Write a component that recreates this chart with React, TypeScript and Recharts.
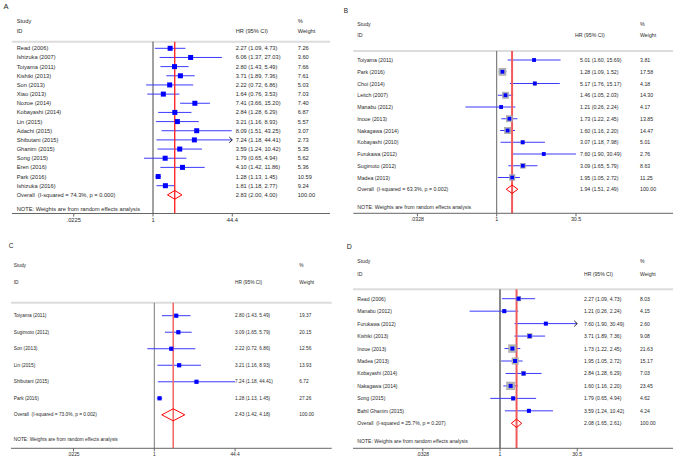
import { ScatterChart, Scatter, XAxis, YAxis, ReferenceLine } from "recharts";

const FONT = '"Liberation Sans", Arial, Helvetica, sans-serif';

// Panel A
const studiesA = ["Read (2006)", "Ishizuka (2007)", "Toiyama (2011)", "Kishiki (2013)", "Son (2013)", "Xiao (2013)", "Nozoe (2014)", "Kobayashi (2014)", "Lin (2015)", "Adachi (2015)", "Shibutani (2015)", "Ghanim (2015)", "Song (2015)", "Eren (2016)", "Park (2016)", "Ishizuka (2016)"];
const hrA = [2.27, 6.06, 2.80, 3.71, 2.22, 1.64, 7.41, 2.84, 3.21, 8.09, 7.24, 3.59, 1.79, 4.10, 1.28, 1.81];
const loA = [1.09, 1.37, 1.43, 1.89, 0.72, 0.76, 3.66, 1.28, 1.16, 1.51, 1.18, 1.24, 0.65, 1.42, 1.13, 1.18];
const hiA = [4.73, 27.03, 5.49, 7.36, 6.86, 3.53, 15.20, 6.29, 8.93, 43.25, 44.41, 10.42, 4.94, 11.86, 1.45, 2.77];
const weightA = [7.26, 3.60, 7.66, 7.61, 5.03, 7.03, 7.40, 6.87, 5.57, 3.07, 2.73, 5.35, 5.62, 5.36, 10.59, 9.24];
const overallA = [2.83, 2.00, 4.00];
const hetA = "Overall  (I-squared = 74.3%, p = 0.000)";
const arrowsA = ["Shibutani (2015)"];

// Panel B
const studiesB = ["Toiyama (2011)", "Park (2016)", "Choi (2014)", "Leitch (2007)", "Manabu (2012)", "Inoue (2013)", "Nakagawa (2014)", "Kobayashi (2010)", "Furukawa (2012)", "Sugimoto (2012)", "Madea (2013)"];
const hrB = [5.01, 1.28, 5.17, 1.46, 1.21, 1.73, 1.60, 3.07, 7.60, 3.09, 1.95];
const loB = [1.60, 1.09, 1.76, 1.05, 0.26, 1.22, 1.16, 1.18, 1.90, 1.65, 1.05];
const hiB = [15.69, 1.52, 15.17, 2.03, 2.24, 2.45, 2.20, 7.98, 30.49, 5.79, 2.72];
const weightB = [3.81, 17.58, 4.18, 14.30, 4.17, 13.85, 14.47, 5.01, 2.76, 8.63, 11.25];
const overallB = [1.94, 1.51, 2.49];
const hetB = "Overall  (I-squared = 63.3%, p = 0.002)";

// Panel C
const studiesC = ["Toiyama (2011)", "Sugimoto (2012)", "Son (2013)", "Lin (2015)", "Shibutani (2015)", "Park (2016)"];
const hrC = [2.80, 3.09, 2.22, 3.21, 7.24, 1.28];
const loC = [1.43, 1.65, 0.72, 1.16, 1.18, 1.13];
const hiC = [5.49, 5.79, 6.86, 8.93, 44.41, 1.45];
const weightC = [19.37, 20.15, 12.56, 13.93, 6.72, 27.26];
const overallC = [2.43, 1.42, 4.18];
const hetC = "Overall  (I-squared = 73.0%, p = 0.002)";

// Panel D
const studiesD = ["Read (2006)", "Manabu (2012)", "Furukawa (2012)", "Kishiki (2013)", "Inoue (2013)", "Madea (2013)", "Kobayashi (2014)", "Nakagawa (2014)", "Song (2015)", "Bahil Ghanim (2015)"];
const hrD = [2.27, 1.21, 7.60, 3.71, 1.73, 1.95, 2.84, 1.60, 1.79, 3.59];
const loD = [1.09, 0.26, 1.90, 1.89, 1.22, 1.05, 1.28, 1.16, 0.65, 1.24];
const hiD = [4.73, 2.24, 30.49, 7.36, 2.45, 2.72, 6.29, 2.20, 4.94, 10.42];
const weightD = [8.03, 4.15, 2.60, 9.08, 21.63, 15.17, 7.03, 23.45, 4.62, 4.24];
const overallD = [2.08, 1.65, 2.61];
const hetD = "Overall  (I-squared = 25.7%, p = 0.207)";
const arrowsD = ["Furukawa (2012)"];

const ticksAC = [0.0225, 1, 44.4];
const tickLabelsAC = [".0225", "1", "44.4"];
const ticksBD = [0.0328, 1, 30.5];
const tickLabelsBD = [".0328", "1", "30.5"];

const NOTE = "NOTE: Weights are from random effects analysis";

type Cfg = {
  letter: string;
  left: number; top: number; width: number; height: number;
  plotLeft: number; plotRight: number; oneX: number; k: number;
  row0Y: number; pitch: number; topY: number; axisY: number; noteY: number;
  studyY: number; idY: number; letterX: number; letterY: number; letterFont: number;
  nameX: number; hrX: number; hrHeadX: number; wtX: number; font: number;
  refColor: string; refWidth: number; oneColor: string; oneWidth: number;
  markSize: number; boxScale: number; diamondHalf: number;
};

const cfgA: Cfg = {
  letter: "A", left: 0, top: 0, width: 337, height: 230,
  plotLeft: 12, plotRight: 330, oneX: 153, k: 20.9,
  row0Y: 48.3, pitch: 9.16, topY: 41.7, axisY: 213.5, noteY: 209,
  studyY: 21, idY: 30.5, letterX: 6, letterY: 6.5, letterFont: 7.5,
  nameX: 16.7, hrX: 235.7, hrHeadX: 235.7, wtX: 297.7, font: 5.7,
  refColor: "#ff1a1a", refWidth: 1.3, oneColor: "#444", oneWidth: 1,
  markSize: 5, boxScale: 0, diamondHalf: 4.3,
};
const cfgB: Cfg = {
  letter: "B", left: 337, top: 0, width: 338, height: 230,
  plotLeft: 16.3, plotRight: 336, oneX: 159.7, k: 23.2,
  row0Y: 60, pitch: 11.75, topY: 51, axisY: 213.3, noteY: 206.7,
  studyY: 24.3, idY: 34.7, letterX: 9, letterY: 10.5, letterFont: 6.5,
  nameX: 20.3, hrX: 243, hrHeadX: 238, wtX: 303, font: 5.25,
  refColor: "#f05a5a", refWidth: 2, oneColor: "#666", oneWidth: 1,
  markSize: 3.8, boxScale: 1.67, diamondHalf: 4.2,
};
const cfgC: Cfg = {
  letter: "C", left: 0, top: 230, width: 337, height: 229,
  plotLeft: 11, plotRight: 331.7, oneX: 154.3, k: 21.3,
  row0Y: 85.7, pitch: 16.52, topY: 72.7, axisY: 218.3, noteY: 209.3,
  studyY: 35.3, idY: 52.3, letterX: 11, letterY: 15.8, letterFont: 6.5,
  nameX: 13.7, hrX: 235, hrHeadX: 235, wtX: 299.3, font: 4.8,
  refColor: "#f06464", refWidth: 1.5, oneColor: "#777", oneWidth: 1,
  markSize: 4.2, boxScale: 0, diamondHalf: 6,
};
const cfgD: Cfg = {
  letter: "D", left: 337, top: 230, width: 338, height: 229,
  plotLeft: 16, plotRight: 336, oneX: 163, k: 22.6,
  row0Y: 68.7, pitch: 12.46, topY: 59.3, axisY: 218.3, noteY: 211,
  studyY: 31.3, idY: 43.7, letterX: 12.3, letterY: 16.8, letterFont: 7,
  nameX: 20.3, hrX: 247, hrHeadX: 247, wtX: 303, font: 5.1,
  refColor: "#f05a5a", refWidth: 2, oneColor: "#888", oneWidth: 2,
  markSize: 4, boxScale: 1.6, diamondHalf: 4.2,
};

const ciText = (h: number, l: number, u: number) => `${h.toFixed(2)} (${l.toFixed(2)}, ${u.toFixed(2)})`;

type PanelProps = {
  cfg: Cfg; studies: string[]; hr: number[]; lo: number[]; hi: number[]; weight: number[];
  overall: number[]; het: string; ticks: number[]; tickLabels: string[]; arrows?: string[];
};

function Panel({ cfg, studies, hr, lo, hi, weight, overall, het, ticks, tickLabels, arrows = [] }: PanelProps) {
  const n = studies.length;
  const idx = (py: number) => (py - cfg.row0Y) / cfg.pitch;
  const yMin = idx(0);
  const yMax = idx(cfg.axisY);
  const topIdx = idx(cfg.topY);
  const xDomain = [Math.exp((cfg.plotLeft - cfg.oneX) / cfg.k), Math.exp((cfg.plotRight - cfg.oneX) / cfg.k)];

  const rows = studies.map((s, i) => ({ name: s, x: hr[i], y: i, w: weight[i] }));
  const arrowRows = rows.filter((r) => arrows.includes(r.name)).map((r) => ({ x: hi[r.y], y: r.y }));
  const h = cfg.diamondHalf / cfg.pitch;
  const diamond = [
    { x: overall[1], y: n }, { x: overall[0], y: n - h }, { x: overall[2], y: n },
    { x: overall[0], y: n + h }, { x: overall[1], y: n },
  ];

  // text rows sit on the same y scale as the marks
  const textRows = [
    { x: 1, y: idx(cfg.letterY), kind: "letter", i: -1 },
    { x: 1, y: idx(cfg.studyY), kind: "study", i: -1 },
    { x: 1, y: idx(cfg.idY), kind: "id", i: -1 },
    ...studies.map((_, i) => ({ x: 1, y: i, kind: "row", i })),
    { x: 1, y: n, kind: "overall", i: -1 },
    { x: 1, y: idx(cfg.noteY), kind: "note", i: -1 },
  ];

  const txt = { fontSize: cfg.font, fill: "#2a2a2a", fontFamily: FONT, dominantBaseline: "central" as const };

  // eslint-disable-next-line @typescript-eslint/no-explicit-any
  const TextShape = (p: any) => {
    const r = p.payload;
    const y = p.cy;
    if (r.kind === "letter")
      return <text x={cfg.letterX} y={y} textAnchor="middle" fontSize={cfg.letterFont} fill="#222" fontFamily={FONT} dominantBaseline="central">{cfg.letter}</text>;
    if (r.kind === "study")
      return <g><text x={cfg.nameX} y={y} {...txt}>Study</text><text x={cfg.wtX} y={y} {...txt}>%</text></g>;
    if (r.kind === "id")
      return <g><text x={cfg.nameX} y={y} {...txt}>ID</text><text x={cfg.hrHeadX} y={y} {...txt}>HR (95% CI)</text><text x={cfg.wtX} y={y} {...txt}>Weight</text></g>;
    if (r.kind === "note") return <text x={cfg.nameX} y={y} {...txt}>{NOTE}</text>;
    if (r.kind === "overall")
      return (
        <g>
          <text x={cfg.nameX} y={y} {...txt} style={{ whiteSpace: "pre" }}>{het}</text>
          <text x={cfg.hrX} y={y} {...txt}>{ciText(overall[0], overall[1], overall[2])}</text>
          <text x={cfg.wtX} y={y} {...txt}>100.00</text>
        </g>
      );
    const i = r.i;
    return (
      <g>
        <text x={cfg.nameX} y={y} {...txt}>{studies[i]}</text>
        <text x={cfg.hrX} y={y} {...txt}>{ciText(hr[i], lo[i], hi[i])}</text>
        <text x={cfg.wtX} y={y} {...txt}>{weight[i].toFixed(2)}</text>
      </g>
    );
  };

  return (
    <div style={{ position: "absolute", left: cfg.left, top: cfg.top }}>
      <ScatterChart width={cfg.width} height={cfg.height}
        margin={{ top: 0, right: cfg.width - cfg.plotRight, bottom: 0, left: cfg.plotLeft }}>
        <XAxis type="number" dataKey="x" scale="log" domain={xDomain} ticks={ticks} interval={0}
          tickFormatter={(v) => tickLabels[ticks.indexOf(v)] ?? ""} height={cfg.height - cfg.axisY}
          stroke="#666" tickSize={3} tickMargin={1}
          tick={{ fontSize: cfg.font, fill: "#2a2a2a", fontFamily: FONT }} />
        <YAxis type="number" dataKey="y" domain={[yMin, yMax]} reversed hide />
        <ReferenceLine y={topIdx} stroke="#dcdcdc" strokeWidth={2} ifOverflow="visible" />
        <ReferenceLine segment={[{ x: 1, y: topIdx }, { x: 1, y: yMax }]} stroke={cfg.oneColor} strokeWidth={cfg.oneWidth} ifOverflow="visible" />
        {cfg.boxScale > 0 && (
          <Scatter data={rows} isAnimationActive={false}
            // eslint-disable-next-line @typescript-eslint/no-explicit-any
            shape={(p: any) => {
              const s = cfg.boxScale * Math.sqrt(p.payload.w);
              return <rect x={p.cx - s / 2} y={p.cy - s / 2} width={s} height={s} fill="#b5b5b5" stroke="#9a9a9a" strokeWidth={0.5} />;
            }} />
        )}
        {studies.map((s, i) => (
          <ReferenceLine key={s} segment={[{ x: lo[i], y: i }, { x: hi[i], y: i }]} stroke="#3a3aff" strokeWidth={1} ifOverflow="visible" />
        ))}
        <Scatter data={rows} isAnimationActive={false}
          // eslint-disable-next-line @typescript-eslint/no-explicit-any
          shape={(p: any) => {
            const s = cfg.markSize;
            return <rect x={p.cx - s / 2} y={p.cy - s / 2} width={s} height={s} fill="#0000ff" />;
          }} />
        <Scatter data={arrowRows} isAnimationActive={false}
          // eslint-disable-next-line @typescript-eslint/no-explicit-any
          shape={(p: any) => (
            <polyline points={`${p.cx - 3},${p.cy - 2.8} ${p.cx},${p.cy} ${p.cx - 3},${p.cy + 2.8}`} fill="none" stroke="#222" strokeWidth={1} />
          )} />
        <ReferenceLine segment={[{ x: overall[0], y: topIdx }, { x: overall[0], y: yMax }]} stroke={cfg.refColor} strokeWidth={cfg.refWidth} ifOverflow="visible" />
        <Scatter data={diamond} isAnimationActive={false} line={{ stroke: "#ff0000", strokeWidth: 1 }} lineJointType="linear"
          shape={() => <g />} />
        <Scatter data={textRows} isAnimationActive={false} shape={TextShape} />
      </ScatterChart>
    </div>
  );
}

export default function App() {
  return (
    <div style={{ position: "absolute", left: 0, top: 0, width: 675, height: 459, background: "#fff", overflow: "hidden" }}>
      <Panel cfg={cfgA} studies={studiesA} hr={hrA} lo={loA} hi={hiA} weight={weightA} overall={overallA} het={hetA}
        ticks={ticksAC} tickLabels={tickLabelsAC} arrows={arrowsA} />
      <Panel cfg={cfgB} studies={studiesB} hr={hrB} lo={loB} hi={hiB} weight={weightB} overall={overallB} het={hetB}
        ticks={ticksBD} tickLabels={tickLabelsBD} />
      <Panel cfg={cfgC} studies={studiesC} hr={hrC} lo={loC} hi={hiC} weight={weightC} overall={overallC} het={hetC}
        ticks={ticksAC} tickLabels={tickLabelsAC} />
      <Panel cfg={cfgD} studies={studiesD} hr={hrD} lo={loD} hi={hiD} weight={weightD} overall={overallD} het={hetD}
        ticks={ticksBD} tickLabels={tickLabelsBD} arrows={arrowsD} />
    </div>
  );
}
